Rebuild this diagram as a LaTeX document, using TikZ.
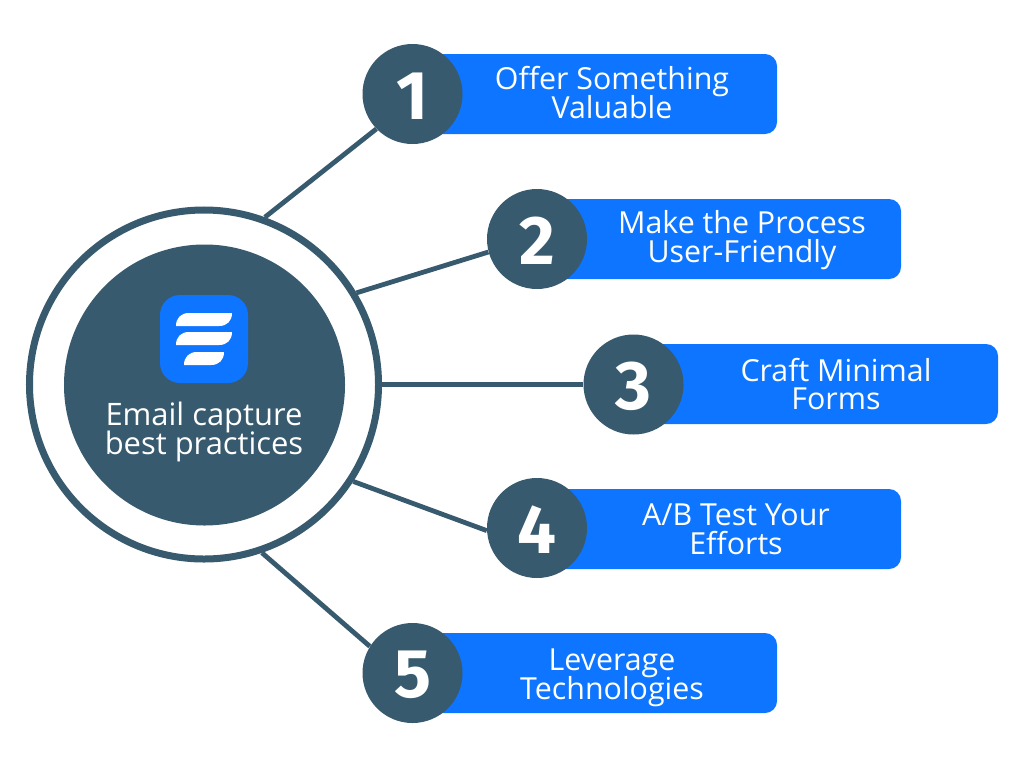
\documentclass[tikz,border=0pt]{standalone}
\usepackage{fontspec}
\setmainfont{Open Sans}
\newfontfamily\digitfont{Fira Sans}
\definecolor{slateblue}{HTML}{375A6E}
\definecolor{barblue}{HTML}{0D75FF}
\def\tightlines{\lineskiplimit=-10pt\relax}
\tikzset{
	ringnode/.style={circle, draw=slateblue, line width=1.75mm, fill=white, minimum size=87.25mm},
	hubnode/.style={circle, fill=slateblue, minimum size=70.25mm},
	numnode/.style={circle, fill=slateblue, text=white, minimum size=25mm, inner sep=0pt, text height=12.7mm, font=\digitfont\bfseries\fontsize{49}{49}\selectfont},
	barnode/.style={rectangle, rounded corners=3mm, fill=barblue, minimum height=20mm, inner sep=0pt},
	itemtext/.style={text=white, align=center, inner sep=0pt, font=\fontsize{21.6}{20.5}\selectfont\tightlines},
	spoke/.style={draw=slateblue, line width=1.2mm}
}
\def\stripe(#1,#2,#3){\fill[white] (#1,#3+13) .. controls (#1,#3+5) and (#1+5,#3) .. (#1+13,#3) -- (#2,#3) .. controls (#2,#3+8) and (#2-5,#3+13) .. (#2-13,#3+13) -- cycle;}
\begin{document}
\begin{tikzpicture}[x=0.25mm,y=-0.25mm]
	\useasboundingbox (0,0) rectangle (1024,768);

	\node[ringnode] (ring) at (204,384.5) {};
	\node[hubnode] (hub) at (204.5,385) {};
	\node[rectangle, rounded corners=5mm, fill=barblue, minimum size=22mm] (logo) at (204,339) {};
	\stripe(176,232,313);
	\stripe(176,232,332);
	\stripe(184,224,352);
	\node[text=white, align=center, inner sep=0pt, font=\fontsize{22}{20.5}\selectfont\tightlines] (hubtext) at (204,432) {Email capture\\best practices};

	\node[barnode, minimum width=100mm] (bar1) at (577,94) {};
	\node[barnode, minimum width=100mm] (bar2) at (701,239) {};
	\node[barnode, minimum width=100mm] (bar3) at (798,384) {};
	\node[barnode, minimum width=100mm] (bar4) at (701,529) {};
	\node[barnode, minimum width=100mm] (bar5) at (577,673) {};

	\node[itemtext] (text1) at (612,92.5) {Offer Something\\Valuable};
	\node[itemtext] (text2) at (742,240) {Make the Process\\User-Friendly};
	\node[itemtext] (text3) at (836,384) {Craft Minimal\\Forms};
	\node[itemtext] (text4) at (736,529.5) {A/B Test Your\\Efforts};
	\node[itemtext] (text5) at (612,677.5) {Leverage\\Technologies};

	\node[numnode] (num1) at (412.5,94) {1};
	\node[numnode] (num2) at (537,239) {2};
	\node[numnode] (num3) at (633.5,384.5) {3};
	\node[numnode] (num4) at (537,528) {4};
	\node[numnode] (num5) at (412.5,673) {5};

	\draw[spoke] (ring.70) -- (num1.224);
	\draw[spoke] (ring.31) -- (num2.195);
	\draw[spoke] (ring.0) -- (num3.180);
	\draw[spoke] (ring.-33) -- (num4.183);
	\draw[spoke] (ring.-71) -- (num5.148);
\end{tikzpicture}
\end{document}
